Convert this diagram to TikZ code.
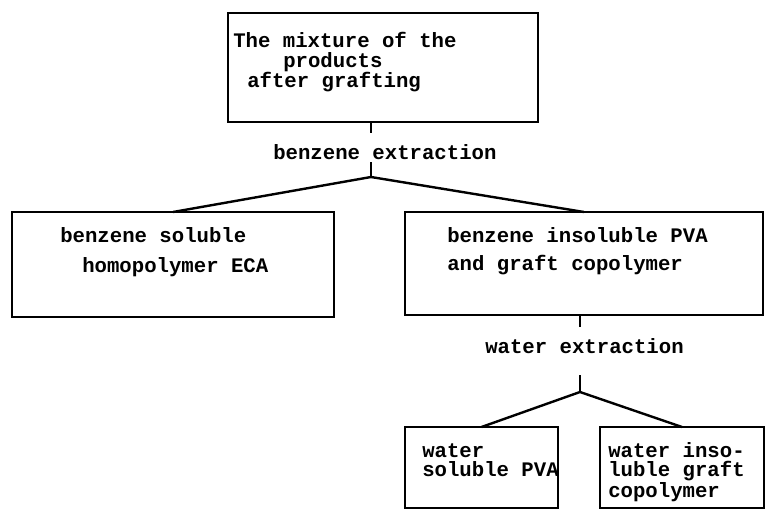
\documentclass[tikz,border=0pt]{standalone}
\usepackage{fontspec}
\setmonofont{Liberation Mono}
\begin{document}
\begin{tikzpicture}[x=0.75pt,y=-0.75pt,
  box/.style={draw=black,line width=1.8pt,inner sep=0pt,outer sep=0pt,anchor=north west},
  txt/.style={anchor=base west,inner sep=0pt,text height=0.68em,text depth=0.14em,font=\ttfamily\bfseries\fontsize{15.5}{15}\selectfont},
  link/.style={draw=black,line width=1.8pt}]
\useasboundingbox (0,0) rectangle (766,510);
% boxes
\node[box,minimum width=232.5pt,minimum height=81.75pt] (mix) at (228,13) {};
\node[box,minimum width=241.5pt,minimum height=78.75pt] (sol) at (12,212) {};
\node[box,minimum width=268.5pt,minimum height=77.25pt] (insol) at (405,212) {};
\node[box,minimum width=114.75pt,minimum height=60.75pt] (wsol) at (405,427) {};
\node[box,minimum width=123pt,minimum height=60.75pt] (winsol) at (600,427) {};
% texts
\node[txt] (m1) at (233,48) {The mixture of the};
\node[txt] (m2) at (283,68) {products};
\node[txt] (m3) at (247,88) {after grafting};
\node[txt] (bex) at (273,159) {benzene extraction};
\node[txt] (s1) at (60,242) {benzene soluble};
\node[txt] (s2) at (82,272) {homopolymer ECA};
\node[txt] (i1) at (447,242) {benzene insoluble PVA};
\node[txt] (i2) at (447,270) {and graft copolymer};
\node[txt] (wex) at (485,353) {water extraction};
\node[txt] (ws1) at (422,457) {water};
\node[txt] (ws2) at (422,476) {soluble PVA};
\node[txt] (wi1) at (608,457) {water inso-};
\node[txt] (wi2) at (608,476) {luble graft};
\node[txt] (wi3) at (608,497) {copolymer};
% junctions
\coordinate (j1) at (371,177);
\coordinate (j2) at (580,392);
% connectors
\draw[link] (mix.south -| j1) -- ++(0,11);
\draw[link] (j1) -- ++(0,-15);
\draw[link] (sol.north) -- (j1) -- (insol.north);
\draw[link] (insol.south -| j2) -- ++(0,12);
\draw[link] (j2) -- ++(0,-17);
\draw[link] (wsol.north) -- (j2) -- (winsol.north);
\end{tikzpicture}
\end{document}
